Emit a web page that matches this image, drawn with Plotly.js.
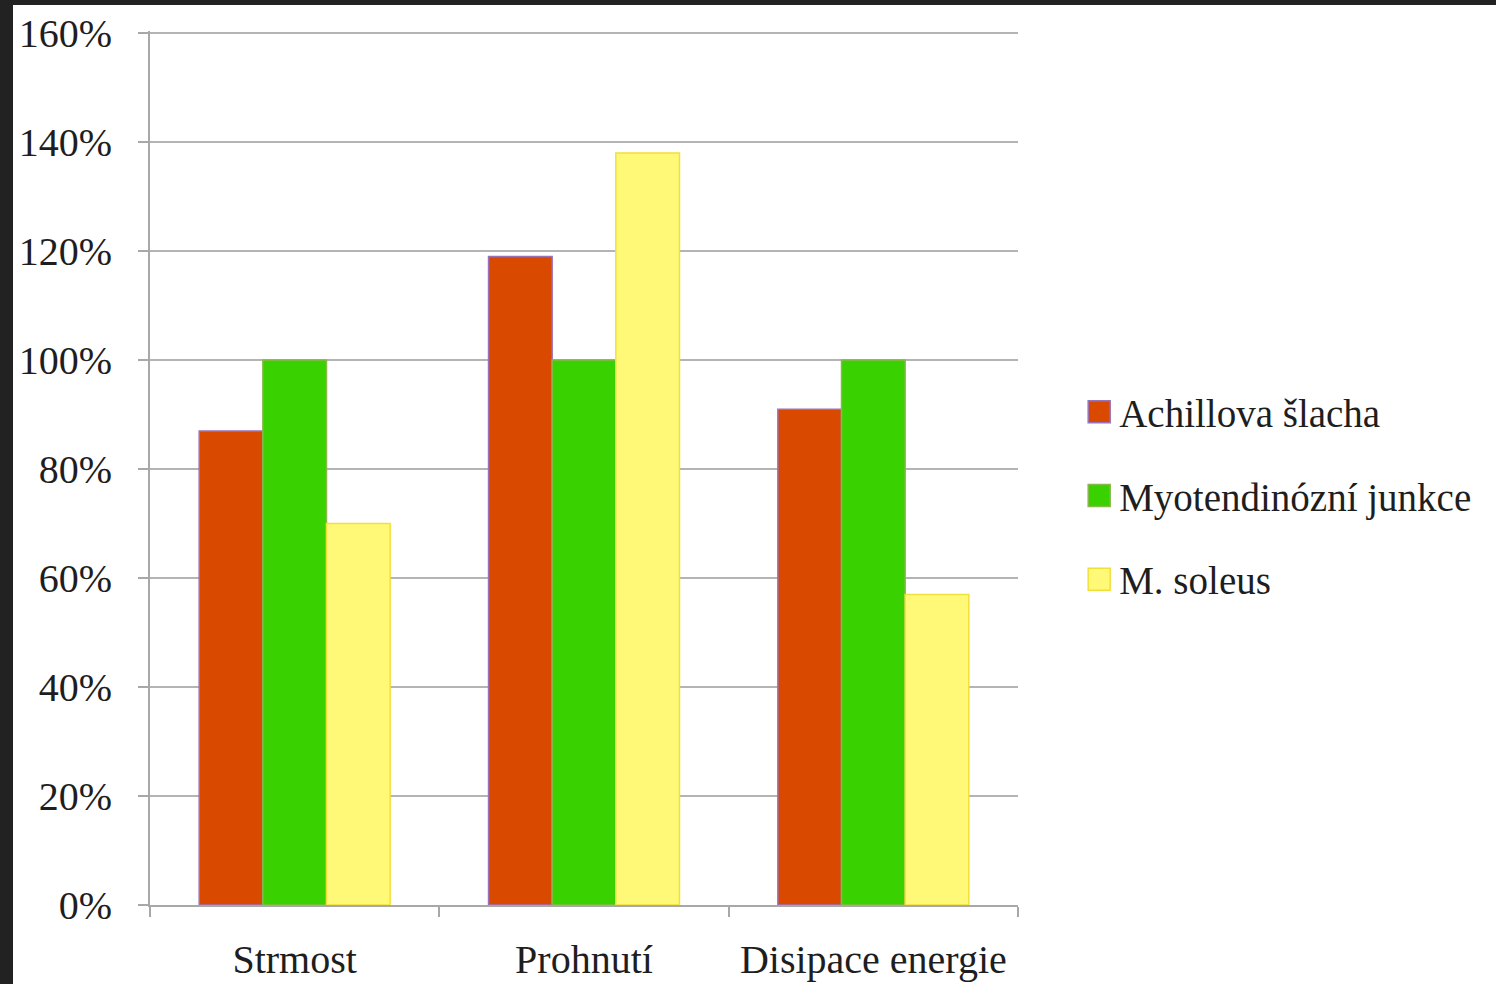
<!DOCTYPE html>
<html>
<head>
<meta charset="utf-8">
<script src="https://cdn.plot.ly/plotly-3.0.1.min.js"></script>
<style>
html,body{margin:0;padding:0;background:#222222;width:1496px;height:984px;overflow:hidden;}
#chart{position:absolute;left:13px;top:5px;width:1483px;height:979px;background:#ffffff;}
</style>
</head>
<body>
<div id="chart"></div>
<script>
const categories = ["Strmost", "Prohnutí", "Disipace energie"];
const seriesNames = ["Achillova šlacha", "Myotendinózní junkce", "M. soleus"];
const achillova = [0.87, 1.19, 0.91];
const myotendinozni = [1.00, 1.00, 1.00];
const soleus = [0.70, 1.38, 0.57];
const yTickVals = [0, 0.2, 0.4, 0.6, 0.8, 1.0, 1.2, 1.4, 1.6];

const fills = ["#d94a00", "#39d100", "#fff977"];
const borders = ["#9a72b8", "#86b84a", "#f2e03a"];
const seriesValues = [achillova, myotendinozni, soleus];

const traces = seriesValues.map((vals, i) => ({
  type: "bar",
  name: seriesNames[i],
  x: categories,
  y: vals,
  legendgroup: "g" + i,
  marker: {color: fills[i], line: {color: borders[i], width: 1.5}},
  hoverinfo: "x+y+name"
}));

const font = {family: "Liberation Serif, DejaVu Serif, serif", color: "#1e1e1e", size: 40};
const legendFont = {family: "Liberation Serif, DejaVu Serif, serif", color: "#1e1e1e", size: 39};

const layout = {
  width: 1483, height: 979,
  margin: {l: 137, r: 478, t: 26, b: 79},
  paper_bgcolor: "#ffffff",
  plot_bgcolor: "#ffffff",
  font: font,
  barmode: "group",
  bargap: 0.34,
  bargroupgap: 0,
  showlegend: true,
  legend: {
    x: 1.0705, y: 0.468, xanchor: "left", yanchor: "middle",
    font: legendFont,
    tracegroupgap: 30,
    traceorder: "grouped",
    itemwidth: 30,
    bgcolor: "rgba(0,0,0,0)"
  },
  xaxis: {
    type: "category",
    showline: true, linecolor: "#a8a8a8", linewidth: 2,
    ticks: "outside", tickson: "boundaries", ticklen: 10, tickwidth: 2, tickcolor: "#a8a8a8",
    tickfont: font,
    showgrid: false, zeroline: false,
    ticklabelstandoff: 18
  },
  yaxis: {
    range: [0, 1.604],
    tickvals: yTickVals,
    tickformat: ".0%",
    showline: true, linecolor: "#a8a8a8", linewidth: 2,
    ticks: "outside", ticklen: 10, tickwidth: 2, tickcolor: "#a8a8a8",
    showgrid: true, gridcolor: "#b4b4b4", gridwidth: 2,
    zeroline: false,
    tickfont: font,
    ticklabelstandoff: 18
  }
};

Plotly.newPlot("chart", traces, layout, {displayModeBar: false, staticPlot: true}).then(function(gd){
  // enlarge the legend swatches to match the reference size
  gd.querySelectorAll(".legend .legendpoints path").forEach(function(p){
    p.setAttribute("d", "M11,11H-11V-11H11Z");
  });
});
</script>
</body>
</html>
